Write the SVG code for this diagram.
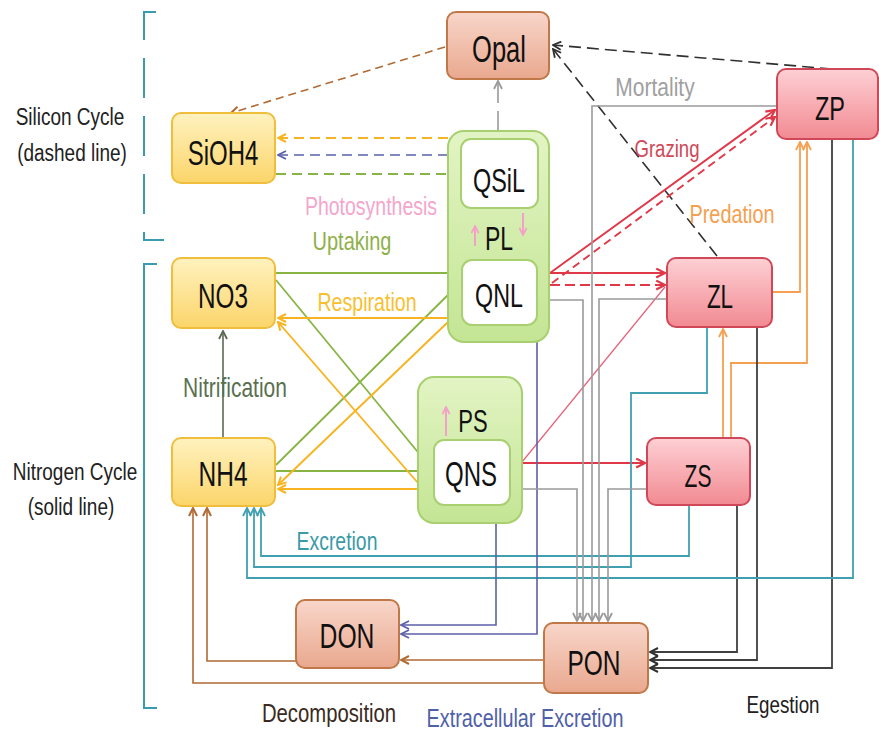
<svg xmlns="http://www.w3.org/2000/svg" width="879" height="735" viewBox="0 0 879 735">
  <style>
    text { font-family: "Liberation Sans", Arial, sans-serif; text-anchor: middle; }
    .nl { fill: #111; }
    .lb { font-size: 19px; }
    .c { fill: none; stroke-width: 1.6; }
    .dash { stroke-dasharray: 10 6; }
    .brown { stroke: #b06a34; }
    .yel { stroke: #f8b420; stroke-width: 1.9; }
    .blue { stroke: #5c60a8; }
    .grn { stroke: #88b444; stroke-width: 1.8; }
    .gray { stroke: #9a9a9a; }
    .blk { stroke: #303030; }
    .red { stroke: #e03848; stroke-width: 1.9; }
    .redt { stroke: #e8607a; stroke-width: 1.2; }
    .org { stroke: #f4a050; stroke-width: 1.8; }
    .teal { stroke: #40a0b0; stroke-width: 1.8; }
    .dark { stroke: #404040; stroke-width: 1.8; }
    .nit { stroke: #5a6a50; }
    .pink { stroke: #f4a0c8; stroke-width: 2; }
    .yn { fill: url(#gYel); stroke: #efbe3c; stroke-width: 2; }
    .bn { fill: url(#gBrn); stroke: #c07848; stroke-width: 2; }
    .rn { fill: url(#gRed); stroke: #d04858; stroke-width: 2; }
    .gn { fill: url(#gGrn); stroke: #a8d070; stroke-width: 2; }
    .wn { fill: #ffffff; stroke: #a8d070; stroke-width: 2; }
  </style>
  <defs>
    <linearGradient id="gYel" x1="0" y1="0" x2="0" y2="1">
      <stop offset="0" stop-color="#fff2bf"/><stop offset="1" stop-color="#fbd56a"/>
    </linearGradient>
    <linearGradient id="gBrn" x1="0" y1="0" x2="0" y2="1">
      <stop offset="0" stop-color="#f8d6ca"/><stop offset="1" stop-color="#e9a88e"/>
    </linearGradient>
    <linearGradient id="gRed" x1="0" y1="0" x2="0" y2="1">
      <stop offset="0" stop-color="#fdd0d4"/><stop offset="1" stop-color="#f28a92"/>
    </linearGradient>
    <linearGradient id="gGrn" x1="0" y1="0" x2="0" y2="1">
      <stop offset="0" stop-color="#e2f4c4"/><stop offset="1" stop-color="#c4e594"/>
    </linearGradient>
    <marker id="aBrown" viewBox="0 0 10 10" refX="9" refY="5" markerWidth="10" markerHeight="10" markerUnits="userSpaceOnUse" orient="auto"><path d="M1,1 L9,5 L1,9" fill="none" stroke="#b06a34" stroke-width="2"/></marker>
    <marker id="aYel" viewBox="0 0 10 10" refX="9" refY="5" markerWidth="10" markerHeight="10" markerUnits="userSpaceOnUse" orient="auto"><path d="M1,1 L9,5 L1,9" fill="none" stroke="#f8b420" stroke-width="2"/></marker>
    <marker id="aBlue" viewBox="0 0 10 10" refX="9" refY="5" markerWidth="10" markerHeight="10" markerUnits="userSpaceOnUse" orient="auto"><path d="M1,1 L9,5 L1,9" fill="none" stroke="#5c60a8" stroke-width="1.8"/></marker>
    <marker id="aGrn" viewBox="0 0 10 10" refX="9" refY="5" markerWidth="10" markerHeight="10" markerUnits="userSpaceOnUse" orient="auto"><path d="M1,1 L9,5 L1,9" fill="none" stroke="#88b444" stroke-width="1.8"/></marker>
    <marker id="aGray" viewBox="0 0 10 10" refX="9" refY="5" markerWidth="10" markerHeight="10" markerUnits="userSpaceOnUse" orient="auto"><path d="M1,1 L9,5 L1,9" fill="none" stroke="#9a9a9a" stroke-width="1.8"/></marker>
    <marker id="aBlk" viewBox="0 0 10 10" refX="9" refY="5" markerWidth="10" markerHeight="10" markerUnits="userSpaceOnUse" orient="auto"><path d="M1,1 L9,5 L1,9" fill="none" stroke="#303030" stroke-width="1.8"/></marker>
    <marker id="aRed" viewBox="0 0 10 10" refX="9" refY="5" markerWidth="11" markerHeight="11" markerUnits="userSpaceOnUse" orient="auto"><path d="M1,1 L9,5 L1,9" fill="none" stroke="#e03848" stroke-width="2"/></marker>
    <marker id="aOrg" viewBox="0 0 10 10" refX="9" refY="5" markerWidth="10" markerHeight="10" markerUnits="userSpaceOnUse" orient="auto"><path d="M1,1 L9,5 L1,9" fill="none" stroke="#f4a050" stroke-width="1.8"/></marker>
    <marker id="aTeal" viewBox="0 0 10 10" refX="9" refY="5" markerWidth="10" markerHeight="10" markerUnits="userSpaceOnUse" orient="auto"><path d="M1,1 L9,5 L1,9" fill="none" stroke="#40a0b0" stroke-width="1.8"/></marker>
    <marker id="aDark" viewBox="0 0 10 10" refX="9" refY="5" markerWidth="10" markerHeight="10" markerUnits="userSpaceOnUse" orient="auto"><path d="M1,1 L9,5 L1,9" fill="none" stroke="#303030" stroke-width="2"/></marker>
    <marker id="aNit" viewBox="0 0 10 10" refX="9" refY="5" markerWidth="10" markerHeight="10" markerUnits="userSpaceOnUse" orient="auto"><path d="M1,1 L9,5 L1,9" fill="none" stroke="#5a6a50" stroke-width="1.8"/></marker>
    <marker id="aPink" viewBox="0 0 10 10" refX="9" refY="5" markerWidth="9" markerHeight="9" markerUnits="userSpaceOnUse" orient="auto"><path d="M1,1 L9,5 L1,9" fill="none" stroke="#f4a0c8" stroke-width="2"/></marker>
  </defs>

  <rect width="879" height="735" fill="#ffffff"/>

  <!-- cycle brackets and side captions -->
  <g id="brackets" fill="none" stroke="#3a9ab0" stroke-width="2">
    <path d="M156,12 L144,12 L144,240 L164,240" stroke-dasharray="40 18"/>
    <path d="M157,264 L144,264 L144,708 L157,708"/>
  </g>
  <g id="captions" fill="#222" class="lb">
    <text transform="translate(70,125) scale(1,1.3)">Silicon Cycle</text>
    <text transform="translate(72,161) scale(1,1.3)">(dashed line)</text>
    <text transform="translate(75,480) scale(1,1.3)">Nitrogen Cycle</text>
    <text transform="translate(71,515) scale(1,1.3)">(solid line)</text>
  </g>

  <!-- connectors -->
  <g id="connectors">
    <!-- silicon cycle (dashed) -->
    <path class="c brown" stroke-width="2.2" d="M445,47 L231,113" stroke-dasharray="8 5" marker-end="url(#aBrown)"/>
    <path class="c yel dash" d="M448,138 L278,138" marker-end="url(#aYel)"/>
    <path class="c blue dash" stroke-width="1.8" d="M448,155 L278,155" marker-end="url(#aBlue)"/>
    <path class="c grn dash" d="M276,174 L459,174" marker-end="url(#aGrn)"/>
    <path class="c gray" d="M498,131 L498,81" stroke-dasharray="20 8" marker-end="url(#aGray)"/>
    <path class="c blk" d="M832,69 L553,45" stroke-dasharray="12 6" marker-end="url(#aBlk)"/>
    <path class="c blk" d="M717,256 L553,49" stroke-dasharray="12 6" marker-end="url(#aBlk)"/>

    <!-- grazing -->
    <path class="c red" d="M550,273 L775,110" marker-end="url(#aRed)"/>
    <path class="c red" d="M552,283 L775,117" stroke-dasharray="8 5" marker-end="url(#aRed)"/>
    <path class="c red" d="M550,273 L665,273" marker-end="url(#aRed)"/>
    <path class="c red" d="M550,285 L665,285" stroke-dasharray="10 5" marker-end="url(#aRed)"/>
    <path class="c redt" d="M522,462 L665,287"/>
    <path class="c red" d="M522,463 L645,463" marker-end="url(#aRed)"/>

    <!-- predation -->
    <path class="c org" d="M772,292 L800,292 L800,142" marker-end="url(#aOrg)"/>
    <path class="c org" d="M731,438 L731,363 L807,363 L807,142" marker-end="url(#aOrg)"/>
    <path class="c org" d="M723,438 L723,329" marker-end="url(#aOrg)"/>

    <!-- egestion -->
    <path class="c dark" d="M832,139 L832,668 L650,668" marker-end="url(#aDark)"/>
    <path class="c dark" d="M757,327 L757,660 L650,660" marker-end="url(#aDark)"/>
    <path class="c dark" d="M737,505 L737,652 L650,652" marker-end="url(#aDark)"/>

    <!-- excretion -->
    <path class="c teal" d="M853,139 L853,578 L247,578 L247,508" marker-end="url(#aTeal)"/>
    <path class="c teal" d="M707,327 L707,393 L631,393 L631,567 L254,567 L254,508" marker-end="url(#aTeal)"/>
    <path class="c teal" d="M689,505 L689,556 L261,556 L261,508" marker-end="url(#aTeal)"/>

    <!-- decomposition -->
    <path class="c brown" stroke-width="2.2" d="M544,660 L401,660" marker-end="url(#aBrown)"/>
    <path class="c brown" stroke-width="2.2" d="M296,661 L207,661 L207,508" marker-end="url(#aBrown)"/>
    <path class="c brown" stroke-width="2.2" d="M544,683 L193,683 L193,508" marker-end="url(#aBrown)"/>

    <!-- extracellular excretion -->
    <path class="c blue" d="M496,523 L496,625 L401,625" marker-end="url(#aBlue)"/>
    <path class="c blue" d="M537,342 L537,634 L401,634" marker-end="url(#aBlue)"/>

    <!-- mortality -->
    <path class="c gray" d="M777,106 L592,106 L592,621" marker-end="url(#aGray)"/>
    <path class="c gray" d="M549,300 L583,300 L583,621" marker-end="url(#aGray)"/>
    <path class="c gray" d="M667,299 L599,299 L599,621" marker-end="url(#aGray)"/>
    <path class="c gray" d="M522,489 L577,489 L577,621" marker-end="url(#aGray)"/>
    <path class="c gray" d="M647,489 L608,489 L608,621" marker-end="url(#aGray)"/>

    <!-- uptaking -->
    <path class="c grn" d="M276,273 L459,273" marker-end="url(#aGrn)"/>
    <path class="c grn" d="M276,280 L431,468" marker-end="url(#aGrn)"/>
    <path class="c grn" d="M276,471 L432,471" marker-end="url(#aGrn)"/>
    <path class="c grn" d="M276,465 L458,285" marker-end="url(#aGrn)"/>

    <!-- respiration -->
    <path class="c yel" stroke-width="2.4" d="M448,318 L278,318" marker-end="url(#aYel)"/>
    <path class="c yel" d="M448,322 L278,485" marker-end="url(#aYel)"/>
    <path class="c yel" d="M418,483 L278,322" marker-end="url(#aYel)"/>
    <path class="c yel" stroke-width="2.4" d="M418,489 L278,489" marker-end="url(#aYel)"/>

    <!-- nitrification -->
    <path class="c nit" d="M223,438 L223,331" marker-end="url(#aNit)"/>
  </g>

  <!-- nodes -->
  <g id="node-opal">
    <rect class="bn" x="447" y="12" width="102" height="67" rx="9"/>
    <text class="nl" style="font-size:25.5px" transform="translate(499,62) scale(1,1.45)">Opal</text>
  </g>
  <g id="node-sioh4">
    <rect class="yn" x="172" y="113" width="103" height="70" rx="9"/>
    <text class="nl" style="font-size:24px" transform="translate(223,165) scale(1,1.45)">SiOH4</text>
  </g>
  <g id="node-no3">
    <rect class="yn" x="172" y="258" width="103" height="70" rx="9"/>
    <text class="nl" style="font-size:24.3px" transform="translate(223,308) scale(1,1.45)">NO3</text>
  </g>
  <g id="node-nh4">
    <rect class="yn" x="172" y="438" width="103" height="68" rx="9"/>
    <text class="nl" style="font-size:24.5px" transform="translate(223,486) scale(1,1.45)">NH4</text>
  </g>
  <g id="node-pl">
    <rect class="gn" x="448" y="131" width="101" height="211" rx="16"/>
    <rect class="wn" x="461" y="139" width="77" height="69" rx="10"/>
    <text class="nl" style="font-size:23.4px" transform="translate(499,192) scale(1,1.45)">QSiL</text>
    <rect class="wn" x="462" y="260" width="75" height="65" rx="10"/>
    <text class="nl" style="font-size:23.3px" transform="translate(499,307) scale(1,1.45)">QNL</text>
    <text class="nl" style="font-size:23px" transform="translate(499,250) scale(1,1.45)">PL</text>
    <path class="c pink" d="M475,246 L475,226" marker-end="url(#aPink)"/>
    <path class="c pink" d="M523,213 L523,235" marker-end="url(#aPink)"/>
  </g>
  <g id="node-ps">
    <rect class="gn" x="418" y="377" width="104" height="146" rx="16"/>
    <rect class="wn" x="434" y="440" width="76" height="65" rx="10"/>
    <text class="nl" style="font-size:24px" transform="translate(471,486) scale(1,1.45)">QNS</text>
    <text class="nl" style="font-size:22px" transform="translate(473,432) scale(1,1.45)">PS</text>
    <path class="c pink" d="M446,436 L446,407" marker-end="url(#aPink)"/>
  </g>
  <g id="node-zp">
    <rect class="rn" x="777" y="69" width="101" height="70" rx="9"/>
    <text class="nl" style="font-size:23.5px" transform="translate(830,120) scale(1,1.45)">ZP</text>
  </g>
  <g id="node-zl">
    <rect class="rn" x="667" y="258" width="105" height="69" rx="9"/>
    <text class="nl" style="font-size:22.5px" transform="translate(720,308) scale(1,1.45)">ZL</text>
  </g>
  <g id="node-zs">
    <rect class="rn" x="647" y="438" width="103" height="67" rx="9"/>
    <text class="nl" style="font-size:21px" transform="translate(698,487) scale(1,1.45)">ZS</text>
  </g>
  <g id="node-don">
    <rect class="bn" x="296" y="600" width="103" height="68" rx="9"/>
    <text class="nl" style="font-size:24.7px" transform="translate(347,648) scale(1,1.45)">DON</text>
  </g>
  <g id="node-pon">
    <rect class="bn" x="544" y="623" width="104" height="70" rx="9"/>
    <text class="nl" style="font-size:24.5px" transform="translate(594,675) scale(1,1.45)">PON</text>
  </g>

  <!-- flux labels -->
  <g id="labels" class="lb">
    <text fill="#f4a6cc" style="font-size:19.5px" transform="translate(371,215) scale(1,1.3)">Photosynthesis</text>
    <text fill="#8fb04a" style="font-size:20px" transform="translate(352,250) scale(1,1.3)">Uptaking</text>
    <text fill="#f8c030" style="font-size:19.6px" transform="translate(367,311) scale(1,1.3)">Respiration</text>
    <text fill="#5a7050" style="font-size:21px" transform="translate(235,397) scale(1,1.3)">Nitrification</text>
    <text fill="#3a9aa8" style="font-size:19.4px" transform="translate(337,550) scale(1,1.3)">Excretion</text>
    <text fill="#3a2a20" style="font-size:20.3px" transform="translate(329,722) scale(1,1.3)">Decomposition</text>
    <text fill="#5060a8" style="font-size:19.8px" transform="translate(525,727) scale(1,1.3)">Extracellular Excretion</text>
    <text fill="#202020" style="font-size:18.8px" transform="translate(783,713) scale(1,1.3)">Egestion</text>
    <text fill="#a0a0a0" style="font-size:21px" transform="translate(655,96) scale(1,1.2)">Mortality</text>
    <text fill="#d04858" style="font-size:18.6px" transform="translate(667,157) scale(1,1.3)">Grazing</text>
    <text fill="#f4a050" style="font-size:19.9px" transform="translate(732,223) scale(1,1.3)">Predation</text>
  </g>
</svg>
